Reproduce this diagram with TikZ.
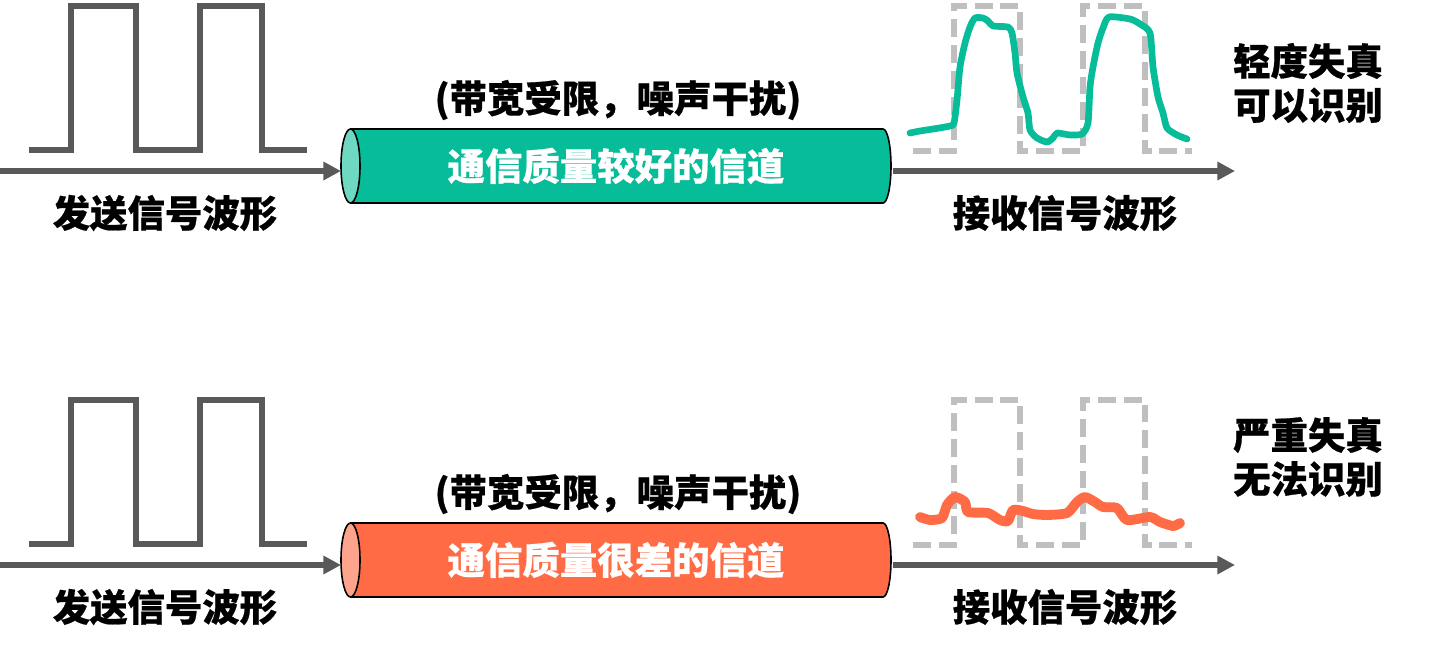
\documentclass[tikz,border=0pt]{standalone}
\usepackage{fontspec}
\setmainfont{Noto Sans CJK SC}[BoldFeatures={FakeBold=0.6}]
\usetikzlibrary{arrows.meta}
\definecolor{wavegray}{HTML}{595959}
\definecolor{dashgray}{HTML}{BFBFBF}
\definecolor{tealA}{HTML}{07BC99}
\definecolor{tealL}{HTML}{6FD8C2}
\definecolor{oranA}{HTML}{FF6B45}
\definecolor{oranL}{HTML}{FFA48C}
\tikzset{
  sqwave/.style={draw=wavegray, line width=3.2pt},
  idealwave/.style={draw=dashgray, line width=3.1pt, dash pattern=on 10.2pt off 4.5pt},
  axis/.style={draw=wavegray, line width=3.5pt, -{Triangle[length=10pt,width=10pt]}},
  cylline/.style={draw=black, line width=0.9pt},
  lbl/.style={font=\fontsize{21.3pt}{25pt}\selectfont\bfseries, text=black, inner sep=0pt, align=center},
  cyltext/.style={font=\fontsize{21.3pt}{25pt}\selectfont\bfseries, text=white, inner sep=0pt},
  goodrx/.style={draw=tealA, line width=3.8pt, line join=round, line cap=round},
  badrx/.style={draw=oranA, line width=5.6pt, line join=round, line cap=round}
}
\begin{document}
\begin{tikzpicture}[x=0.02cm,y=-0.02cm]
\useasboundingbox (0,0) rectangle (1454,653);

% ================= TOP ROW =================
% transmitted square wave
\draw[sqwave] (29,150) -- (71,150) -- (71,6) -- (136,6) -- (136,150) -- (200,150) -- (200,6) -- (262,6) -- (262,150) -- (307,150);
\node[lbl] (tx1) at (165,213) {发送信号波形};
\coordinate (s1) at (0,171);
\coordinate (c1w) at (341,171);
\coordinate (c1e) at (893,171);
\coordinate (e1) at (1235,171);
% cylinder
\fill[tealA] (350,129) -- (883,129) arc[start angle=-90,end angle=90,x radius=8,y radius=37] -- (350,203) -- cycle;
\draw[cylline] (350,129) -- (883,129) arc[start angle=-90,end angle=90,x radius=8,y radius=37] -- (350,203);
\draw[cylline, fill=tealL] (350.5,166) ellipse [x radius=9.5, y radius=37];
\node[cyltext] (ch1) at (616,166) {通信质量较好的信道};
\node[lbl] (n1) at (618,100) {(带宽受限，噪声干扰)};
\draw[axis] (s1) -- (c1w);
\draw[axis] (c1e) -- (e1);
% received
\draw[idealwave] (913,151) -- (954,151) -- (954,6) -- (1020,6) -- (1020,151) -- (1083,151) -- (1083,6) -- (1145,6) -- (1145,151) -- (1192,151);
\draw[goodrx] plot[smooth, tension=0.4] coordinates {
 (910,133) (920,131) (933,129) (950,126) (954,123) (957,100) (960,67) (965,43)
 (970,27) (975,18) (983,18) (988,21) (993,26) (1008,27) (1012,33) (1015,53)
 (1017,73) (1023,97) (1028,113) (1030,130) (1037,138) (1047,142) (1053,138)
 (1057,133) (1070,135) (1082,134) (1088,123) (1090,87) (1093,67) (1098,43)
 (1103,28) (1109,17) (1130,19) (1140,24) (1150,33) (1153,67) (1158,97)
 (1163,113) (1167,128) (1177,135) (1187,139)};
\node[lbl] (rx1) at (1065,213) {接收信号波形};
\node[lbl] (r1) at (1308,83) {轻度失真\\可以识别};

% ================= BOTTOM ROW =================
\draw[sqwave] (29,544) -- (71,544) -- (71,400) -- (136,400) -- (136,544) -- (200,544) -- (200,400) -- (262,400) -- (262,544) -- (307,544);
\node[lbl] (tx2) at (165,607) {发送信号波形};
\coordinate (s2) at (0,565);
\coordinate (c2w) at (341,565);
\coordinate (c2e) at (893,565);
\coordinate (e2) at (1235,565);
\fill[oranA] (350,523) -- (883,523) arc[start angle=-90,end angle=90,x radius=8,y radius=37] -- (350,597) -- cycle;
\draw[cylline] (350,523) -- (883,523) arc[start angle=-90,end angle=90,x radius=8,y radius=37] -- (350,597);
\draw[cylline, fill=oranL] (350.5,560) ellipse [x radius=9.5, y radius=37];
\node[cyltext] (ch2) at (616,560) {通信质量很差的信道};
\node[lbl] (n2) at (618,494) {(带宽受限，噪声干扰)};
\draw[axis] (s2) -- (c2w);
\draw[axis] (c2e) -- (e2);
\draw[idealwave] (913,545) -- (954,545) -- (954,400) -- (1020,400) -- (1020,545) -- (1083,545) -- (1083,400) -- (1145,400) -- (1145,545) -- (1192,545);
\draw[badrx] plot[smooth, tension=0.4] coordinates {
 (920,517) (930,520) (942,518) (947,505) (955,497) (965,502) (968,512) (988,513)
 (1000,520) (1008,521) (1013,510) (1023,511) (1033,514) (1047,515) (1067,513)
 (1077,502) (1085,497) (1095,502) (1103,507) (1117,508) (1127,520) (1150,517)
 (1160,522) (1173,526) (1180,523)};
\node[lbl] (rx2) at (1065,607) {接收信号波形};
\node[lbl] (r2) at (1308,457) {严重失真\\无法识别};
\end{tikzpicture}
\end{document}
